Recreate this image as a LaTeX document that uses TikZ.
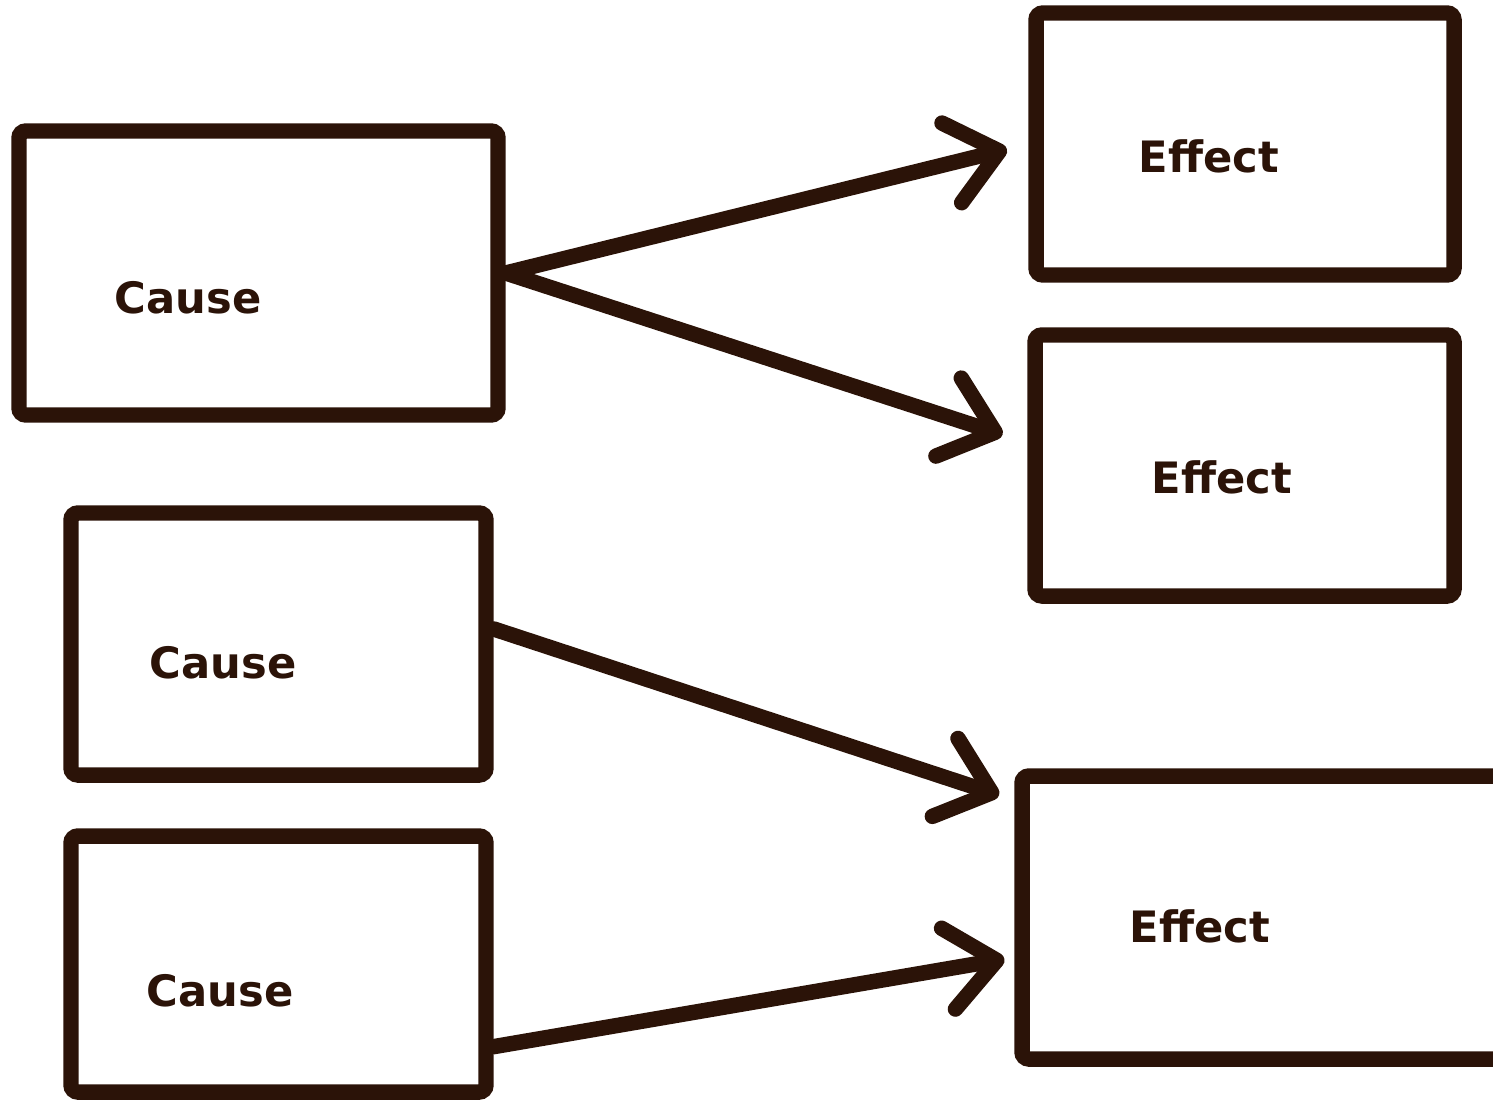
\documentclass[tikz,border=0pt]{standalone}
\usepackage{fontspec}
\setsansfont{DejaVu Sans}
\usetikzlibrary{arrows.meta,calc}
\definecolor{ink}{HTML}{2B1308}

\begin{document}
\begin{tikzpicture}[>={Straight Barb[length=4.9mm,width=8.2mm,round]},
  box/.style={draw=ink,line width=4.4pt,rounded corners=2pt,inner sep=0pt},
  lbl/.style={font=\sffamily\bfseries\fontsize{12.3}{14}\selectfont,text=ink,inner sep=0pt,anchor=base},
  link/.style={->,draw=ink,line width=4.4pt,line cap=round}]
  \useasboundingbox (0,0) rectangle (14.93,-10.99);
  % causes
  \node[box,minimum width=4.79cm,minimum height=2.84cm] (c1) at (2.585,-2.73) {};
  \node[box,minimum width=4.15cm,minimum height=2.62cm] (c2) at (2.785,-6.44) {};
  \node[box,minimum width=4.15cm,minimum height=2.56cm] (c3) at (2.785,-9.64) {};
  \node[lbl] (c1t) at (1.88,-3.13) {Cause};
  \node[lbl] (c2t) at (2.23,-6.78) {Cause};
  \node[lbl] (c3t) at (2.20,-10.06) {Cause};
  % effects
  \node[box,minimum width=4.18cm,minimum height=2.62cm] (e1) at (12.45,-1.44) {};
  \node[box,minimum width=4.19cm,minimum height=2.61cm] (e2) at (12.445,-4.655) {};
  \node[box,minimum width=4.88cm,minimum height=2.83cm] (e3) at (12.66,-9.175) {};
  \node[lbl] (e1t) at (12.09,-1.72) {Effect};
  \node[lbl] (e2t) at (12.22,-4.93) {Effect};
  \node[lbl] (e3t) at (12.00,-9.42) {Effect};
  % links
  \draw[link,shorten >=2.2mm] (c1.east) -- (e1.west);
  \draw[link,shorten >=2.6mm] (c1.east) -- (e2.174);
  \draw[link,shorten >=1.6mm] (c2.4) -- (e3.155);
  \draw[link,shorten >=1.0mm] (c3.-21) -- (e3.189);
\end{tikzpicture}
\end{document}
